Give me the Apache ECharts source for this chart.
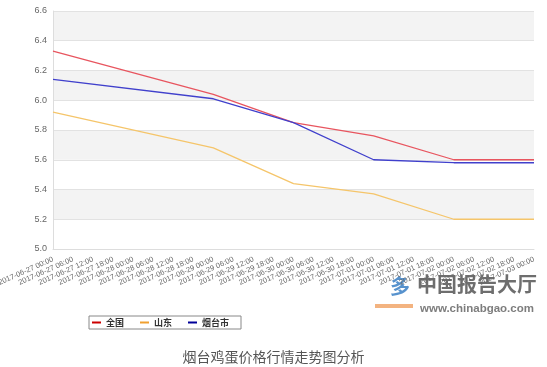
<!DOCTYPE html>
<html><head><meta charset="utf-8">
<script src="https://cdn.jsdelivr.net/npm/echarts@6/dist/echarts.min.js"></script>
<style>html,body{margin:0;padding:0;background:#fff}#c{width:547px;height:367px}</style>
</head><body><div id="c"></div>
<script>
const categories = [
 '2017-06-27 00:00','2017-06-27 06:00','2017-06-27 12:00','2017-06-27 18:00',
 '2017-06-28 00:00','2017-06-28 06:00','2017-06-28 12:00','2017-06-28 18:00',
 '2017-06-29 00:00','2017-06-29 06:00','2017-06-29 12:00','2017-06-29 18:00',
 '2017-06-30 00:00','2017-06-30 06:00','2017-06-30 12:00','2017-06-30 18:00',
 '2017-07-01 00:00','2017-07-01 06:00','2017-07-01 12:00','2017-07-01 18:00',
 '2017-07-02 00:00','2017-07-02 06:00','2017-07-02 12:00','2017-07-02 18:00',
 '2017-07-03 00:00'];
// values at daily points (every 4th category), nulls between
const quanguo  = [6.33,null,null,null,null,null,null,null,6.04,null,null,null,5.85,null,null,null,5.76,null,null,null,5.60,null,null,null,5.60];
const shandong = [5.92,null,null,null,null,null,null,null,5.68,null,null,null,5.44,null,null,null,5.37,null,null,null,5.20,null,null,null,5.20];
const yantai   = [6.14,null,null,null,null,null,null,null,6.01,null,null,null,5.85,null,null,null,5.60,null,null,null,5.58,null,null,null,5.58];
const yTicks = {min:5.0, max:6.6, interval:0.2};

const chart = echarts.init(document.getElementById('c'));
const mk = (name, data, color, legendColor) => ({
  name, type:'line', data, connectNulls:true, showSymbol:false, symbol:'none',
  lineStyle:{color, width:1.3}, itemStyle:{color: legendColor}
});
chart.setOption({
  animation:false,
  title:{text:'烟台鸡蛋价格行情走势图分析', left:'center', top:345,
    textStyle:{fontSize:14, fontWeight:'normal', color:'#555', fontFamily:'Noto Sans CJK SC'}},
  legend:{left:89, top:316, orient:'horizontal', borderColor:'#888', borderWidth:1,
    padding:[2,12,2,3], itemWidth:9, itemHeight:2, itemGap:16, icon:'rect',
    textStyle:{fontSize:9, color:'#333', fontWeight:'bold', fontFamily:'Noto Sans CJK SC'},
    data:['全国','山东','烟台市']},
  grid:{left:53, right:13, top:11, bottom:118, containLabel:false, outerBoundsMode:'none'},
  xAxis:{type:'category', data:categories, boundaryGap:false,
    axisLine:{lineStyle:{color:'#ddd'}}, axisTick:{show:false},
    axisLabel:{interval:0, rotate:24, fontSize:7.5, color:'#666', margin:10, fontFamily:'Liberation Sans'},
    splitLine:{show:false}},
  yAxis:{type:'value', min:yTicks.min, max:yTicks.max, interval:yTicks.interval,
    axisLine:{show:true, lineStyle:{color:'#ddd'}}, axisTick:{show:false},
    axisLabel:{fontSize:9, color:'#666', margin:6, formatter:v=>v.toFixed(1), fontFamily:'Liberation Sans'},
    splitLine:{lineStyle:{color:'#e2e2e2'}},
    splitArea:{show:true, areaStyle:{color:['#ffffff','#f3f3f3']}}},
  series:[
    mk('全国', quanguo, '#e8555f', '#cc0000'),
    mk('山东', shandong, '#f5c56a', '#f0a030'),
    mk('烟台市', yantai, '#4040cc', '#000099')
  ],
  graphic:[
    {type:'text', left:417, top:274, style:{text:'中国报告大厅', fontSize:20, fontWeight:'bold', fill:'#555', fontFamily:'Noto Sans CJK SC', opacity:0.85}},
    {type:'text', left:420, top:303, style:{text:'www.chinabgao.com', fontSize:11.5, fontWeight:'bold', fill:'#666', fontFamily:'Liberation Sans', opacity:0.85}},
    {type:'text', left:390, top:276, style:{text:'多', fontSize:20, fontWeight:'bold', fill:'#3a7fc4', fontFamily:'Noto Sans CJK SC', opacity:0.85}},
    {type:'rect', shape:{x:375, y:304, width:38, height:4}, style:{fill:'#f0a060', opacity:0.8}}
  ]
});
</script></body></html>
